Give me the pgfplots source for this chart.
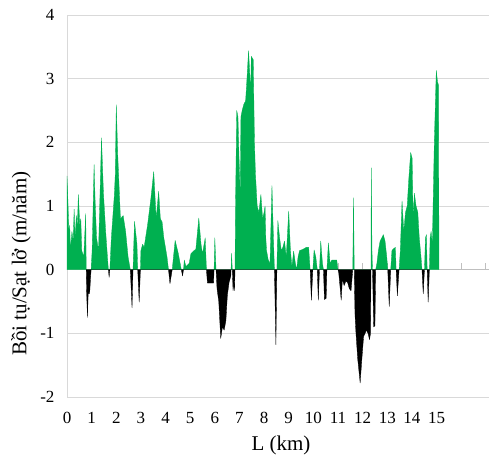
\documentclass[border=0pt]{standalone}
\usepackage{fontspec}
\setmainfont{Liberation Serif}
\usepackage{pgfplots}
\usepackage{pgfplotstable}
\pgfplotsset{compat=1.18}
\definecolor{bgreen}{HTML}{00B050}
\definecolor{gridc}{HTML}{D9D9D9}
\definecolor{axc}{HTML}{BFBFBF}
\pgfplotstableread{
x y
0.00 1.47
0.04 1.05
0.08 0.55
0.11 0.70
0.14 0.30
0.20 0.60
0.25 0.45
0.29 0.95
0.33 0.50
0.38 0.85
0.42 0.65
0.46 1.18
0.52 0.70
0.56 0.80
0.60 0.30
0.68 0.20
0.76 0.88
0.78 0
0.98 0
1.02 0.30
1.10 1.65
1.14 1.10
1.20 0.50
1.28 0.30
1.40 2.07
1.48 1.20
1.57 0.60
1.66 0.10
1.68 0
1.74 0
1.80 0.50
1.92 1.16
1.96 1.50
2.00 2.59
2.06 1.80
2.17 0.80
2.28 0.85
2.38 0.60
2.48 0.20
2.57 0
2.68 0
2.74 0.76
2.84 0.40
2.87 0
2.98 0
3.00 0.30
3.07 0.40
3.13 0.35
3.27 0.70
3.40 1.10
3.52 1.54
3.62 0.80
3.72 1.23
3.79 0.80
3.86 0.75
3.93 0.50
4.06 0.20
4.12 0
4.27 0
4.39 0.46
4.52 0.25
4.64 0
4.73 0
4.76 0.15
4.83 0.05
4.96 0.10
5.03 0.25
5.16 0.30
5.23 0.32
5.35 0.81
5.44 0.40
5.50 0.25
5.61 0.50
5.66 0
5.97 0
6.00 0.50
6.05 0
6.66 0
6.68 0.26
6.71 0
6.82 0
6.84 1.00
6.89 2.50
6.94 2.40
6.98 1.80
7.03 1.20
7.06 2.40
7.11 2.50
7.18 2.60
7.25 2.65
7.29 2.90
7.37 3.44
7.43 3.00
7.45 2.60
7.48 3.35
7.56 3.30
7.61 2.00
7.65 1.50
7.72 1.00
7.79 0.90
7.87 1.18
7.94 0.80
8.00 0.90
8.04 1.00
8.07 0.50
8.10 0.30
8.17 0.15
8.24 0.10
8.32 1.32
8.38 0.50
8.42 0
8.52 0
8.56 0.77
8.63 0.50
8.70 0.30
8.76 0.35
8.83 0.45
8.90 0.20
9.00 0.92
9.07 0.30
9.13 0.05
9.20 0.29
9.27 0.10
9.32 0
9.38 0.20
9.44 0.30
9.58 0.32
9.71 0.35
9.81 0.35
9.87 0
9.98 0
10.03 0.31
10.10 0.20
10.16 0
10.25 0
10.30 0.45
10.37 0.10
10.41 0
10.55 0
10.61 0.42
10.68 0.10
10.75 0.15
10.95 0.15
11.00 0
11.60 0
11.63 1.13
11.66 0
12.34 0
12.35 1.60
12.38 0.30
12.40 0
12.53 0
12.58 0.10
12.64 0.30
12.71 0.45
12.78 0.50
12.84 0.55
12.91 0.45
12.98 0.20
13.02 0
13.14 0
13.19 0.30
13.26 0.33
13.33 0.35
13.36 0
13.48 0
13.53 0.30
13.60 1.08
13.67 0.60
13.74 0.90
13.81 1.00
13.87 1.40
13.95 1.84
14.01 1.75
14.05 0.80
14.10 1.20
14.17 1.00
14.24 0.90
14.30 0.50
14.37 0.20
14.41 0
14.51 0
14.55 0.50
14.59 0.55
14.62 0
14.71 0
14.74 0.50
14.78 0.60
14.83 0.40
14.87 1.20
14.91 2.00
14.99 3.13
15.04 2.95
15.08 2.90
15.10 0
}\accretion
\pgfplotstableread{
x y
0.78 0
0.80 -0.40
0.83 -0.75
0.86 -0.38
0.92 -0.37
0.96 -0.10
0.98 0
1.68 0
1.71 -0.12
1.74 0
2.57 0
2.64 -0.60
2.68 0
2.87 0
2.93 -0.51
2.98 0
4.12 0
4.18 -0.22
4.27 0
4.64 0
4.69 -0.10
4.73 0
5.66 0
5.70 -0.21
5.95 -0.21
5.97 0
6.05 0
6.09 -0.30
6.16 -0.50
6.24 -1.08
6.31 -0.90
6.38 -0.95
6.45 -0.80
6.51 -0.40
6.58 -0.20
6.65 -0.10
6.66 0
6.71 0
6.74 -0.33
6.78 -0.20
6.80 -0.33
6.82 0
8.42 0
8.48 -1.18
8.52 0
9.87 0
9.92 -0.48
9.98 0
10.16 0
10.20 -0.48
10.25 0
10.41 0
10.45 -0.47
10.52 -0.45
10.55 0
11.00 0
11.03 -0.05
11.09 -0.30
11.13 -0.48
11.18 -0.15
11.25 -0.25
11.32 -0.18
11.39 -0.20
11.46 -0.30
11.53 -0.33
11.60 0
11.66 0
11.69 -0.70
11.73 -1.00
11.80 -1.40
11.90 -1.78
11.97 -1.40
12.04 -1.05
12.10 -1.00
12.15 -0.95
12.22 -1.00
12.28 -1.10
12.32 -1.00
12.34 0
12.40 0
12.45 -0.90
12.50 -0.88
12.53 0
13.02 0
13.08 -0.58
13.14 0
13.36 0
13.41 -0.41
13.48 0
14.41 0
14.46 -0.38
14.51 0
14.62 0
14.66 -0.51
14.71 0
}\erosion
\begin{document}
\begin{tikzpicture}
\useasboundingbox (0,0) rectangle (489bp,456bp);
\begin{axis}[
  at={(67bp,59bp)}, anchor=south west,
  scale only axis, width=422bp, height=382bp,
  xmin=0, xmax=17.13, ymin=-2, ymax=4,
  axis line style={draw=none},
  tick style={draw=none},
  ytick={-2,-1,0,1,2,3,4},
  yticklabels={-2,-1,0,1,2,3,4},
  xtick={0,1,2,3,4,5,6,7,8,9,10,11,12,13,14,15},
  xticklabels={0,1,2,3,4,5,6,7,8,9,10,11,12,13,14,15},
  ymajorgrids,
  grid style={gridc, line width=0.75bp},
  ticklabel style={font=\fontsize{17bp}{20bp}\selectfont},
  yticklabel style={xshift=-9bp},
  xticklabel style={yshift=-12bp},
  xlabel={L (km)},
  ylabel={Bồi tụ/Sạt lở (m/năm)},
  every axis x label/.style={at={(axis description cs:0.507,-0.126)}, anchor=center, font=\fontsize{21bp}{25bp}\selectfont},
  every axis y label/.style={at={(axis description cs:-0.109,0.349)}, rotate=90, anchor=center, font=\fontsize{21bp}{25bp}\selectfont},
  clip=false,
]
\draw[gridc, line width=0.75bp] (axis cs:0,-2) -- (axis cs:0,4);
\draw[axc, line width=0.75bp] (axis cs:0,0) -- (axis cs:17.13,0);
\pgfplotsinvokeforeach{1,...,17}{\draw[axc, line width=0.75bp] (axis cs:#1,0) -- (axis cs:#1,0.1);}
\addplot[fill=bgreen, draw=bgreen, line width=0.3bp, line join=round] table[x=x,y=y] {\accretion} \closedcycle;
\addplot[fill=black, draw=black, line width=0.3bp, line join=round] table[x=x,y=y] {\erosion} \closedcycle;
\end{axis}
\end{tikzpicture}
\end{document}
